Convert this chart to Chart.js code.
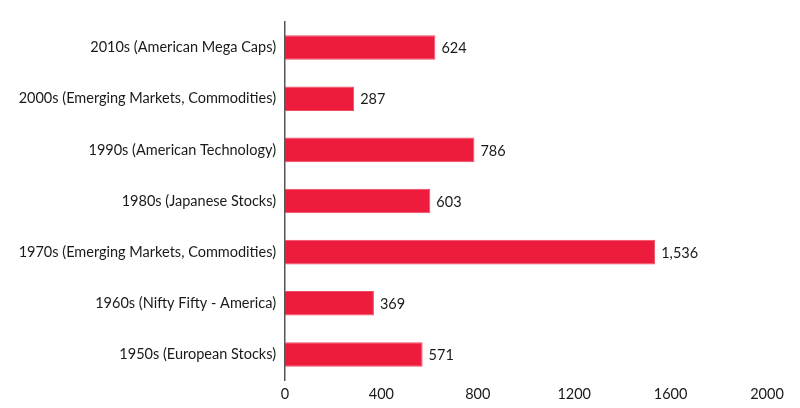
<!DOCTYPE html>
<html>
<head>
<meta charset="utf-8">
<script src="https://cdn.jsdelivr.net/npm/chart.js@4/dist/chart.umd.min.js"></script>
<style>
  html, body { margin: 0; padding: 0; background: #fff; }
  #wrap { width: 800px; height: 408px; }
</style>
</head>
<body>
<div id="wrap"><canvas id="barChart"></canvas></div>
<script>
// categories, top to bottom
const eras = [
  "2010s (American Mega Caps)",
  "2000s (Emerging Markets, Commodities)",
  "1990s (American Technology)",
  "1980s (Japanese Stocks)",
  "1970s (Emerging Markets, Commodities)",
  "1960s (Nifty Fifty - America)",
  "1950s (European Stocks)"
];
const values = [624, 287, 786, 603, 1536, 369, 571];
const xTicks = [0, 400, 800, 1200, 1600, 2000];

// value labels at the end of each bar
const endLabels = {
  id: 'endLabels',
  afterDatasetsDraw(chart) {
    const ctx = chart.ctx;
    const meta = chart.getDatasetMeta(0);
    ctx.save();
    ctx.font = '14.5px Lato';
    ctx.fillStyle = '#1a1a1a';
    ctx.textAlign = 'left';
    ctx.textBaseline = 'middle';
    meta.data.forEach((bar, i) => {
      ctx.fillText(values[i].toLocaleString('en-US'), bar.x + 6, bar.y + 1);
    });
    ctx.restore();
  }
};

const barCtx = document.getElementById('barChart').getContext('2d');
const barChart = new Chart(barCtx, {
  type: 'bar',
  data: {
    labels: eras,
    datasets: [{
      data: values,
      backgroundColor: '#ed1c3c',
      borderColor: '#f04a63',
      borderWidth: 1,
      barPercentage: 0.48,
      categoryPercentage: 1
    }]
  },
  plugins: [endLabels],
  options: {
    indexAxis: 'y',
    responsive: true,
    maintainAspectRatio: false,
    animation: false,
    layout: { padding: { top: 22, right: 33, bottom: 0, left: 0 } },
    plugins: {
      legend: { display: false },
      tooltip: { enabled: false }
    },
    scales: {
      x: {
        min: 0,
        max: 2000,
        afterBuildTicks: (scale) => { scale.ticks = xTicks.map(v => ({ value: v })); },
        afterFit: (scale) => { scale.height = 28; },
        grid: { display: false },
        border: { display: false },
        ticks: {
          color: '#1a1a1a',
          font: { family: 'Lato', size: 14.5 },
          padding: -2,
          callback: (v) => String(v)
        }
      },
      y: {
        grid: { display: false },
        border: { display: true, color: '#555', width: 1.5 },
        afterFit: (scale) => { scale.width = 285; },
        ticks: { color: '#1a1a1a', font: { family: 'Lato', size: 14.5 }, padding: 1 }
      }
    }
  }
});
</script>
</body>
</html>
